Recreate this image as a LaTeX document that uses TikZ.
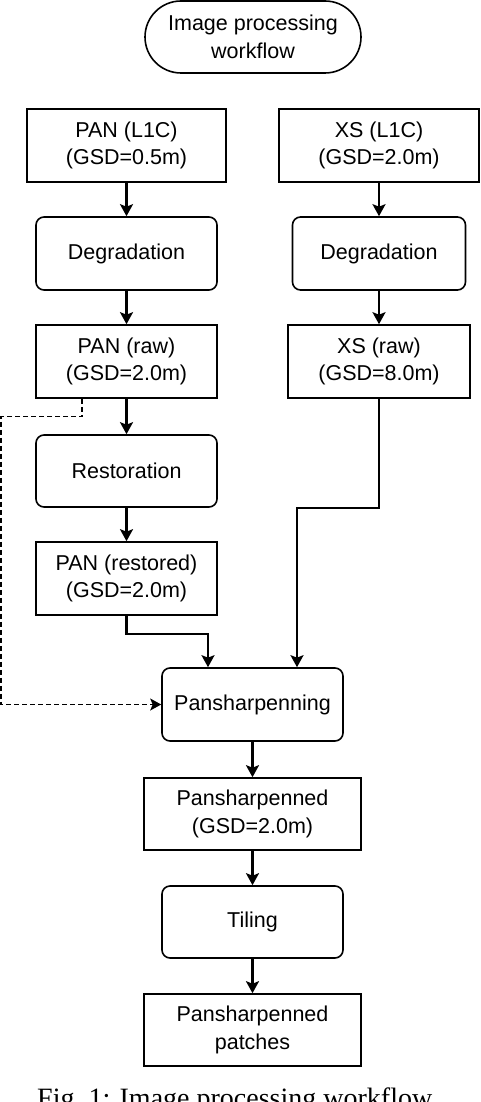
\documentclass[tikz,border=0pt]{standalone}
\usepackage{fontspec}
\setmainfont{Liberation Sans}
\newfontfamily\capfont{Liberation Serif}
\usetikzlibrary{arrows.meta}
\begin{document}
\begin{tikzpicture}[x=1pt,y=-1pt,
  every node/.style={font=\fontsize{21.5}{27.5}\selectfont, align=center, inner sep=0pt},
  databox/.style={draw, line width=1.6pt, minimum height=73pt},
  procbox/.style={databox, rounded corners=8pt},
  flow/.style={line width=2.2pt, -{Stealth[length=12pt,width=13pt,inset=2.5pt]}},
  dashflow/.style={line width=1.2pt, dash pattern=on 5pt off 3pt, -{Stealth[length=11pt,width=12pt,inset=2.5pt]}}]
\useasboundingbox (0,0) rectangle (480,1102);
\node[databox, rounded corners=36pt, minimum width=216pt, minimum height=72pt] (title) at (253,37) {Image processing\\workflow};
\node[databox, minimum width=199pt] (panlc) at (126.5,145.5) {PAN (L1C)\\(GSD=0.5m)};
\node[databox, minimum width=200pt] (xslc) at (379,145.5) {XS (L1C)\\(GSD=2.0m)};
\node[procbox, minimum width=181pt] (degpan) at (126.5,253.5) {Degradation};
\node[procbox, minimum width=173pt] (degxs) at (379,253.5) {Degradation};
\node[databox, minimum width=181pt] (panraw) at (126.5,361.5) {PAN (raw)\\(GSD=2.0m)};
\node[databox, minimum width=182pt] (xsraw) at (379,361.5) {XS (raw)\\(GSD=8.0m)};
\node[procbox, minimum width=181pt, minimum height=72pt] (restore) at (126.5,471) {Restoration};
\node[databox, minimum width=181pt] (panrest) at (126.5,578.5) {PAN (restored)\\(GSD=2.0m)};
\node[procbox, minimum width=181pt] (pansharp) at (252.5,704.5) {Pansharpenning};
\node[databox, minimum width=217pt, minimum height=72pt] (pshout) at (252.5,814) {Pansharpenned\\(GSD=2.0m)};
\node[procbox, minimum width=181pt, minimum height=72pt] (tiling) at (252.5,922) {Tiling};
\node[databox, minimum width=217pt, minimum height=72pt] (patches) at (252.5,1030) {Pansharpenned\\patches};
\node[anchor=base west, font=\capfont\fontsize{28}{32}\selectfont] (caption) at (37,1107.5) {Fig.~1: Image processing workflow.};
\draw[flow] (panlc) -- (degpan);
\draw[flow] (xslc) -- (degxs);
\draw[flow] (degpan) -- (panraw);
\draw[flow] (degxs) -- (xsraw);
\draw[flow] (panraw) -- (restore);
\draw[flow] (restore) -- (panrest);
\draw[flow] (panrest.south) -- ++(0,18) -| ([xshift=-44.5pt]pansharp.north);
\draw[flow] (xsraw.south) -- ++(0,109) -| ([xshift=44.5pt]pansharp.north);
\draw[dashflow] ([xshift=-44.5pt]panraw.south) -- ++(0,18) -- ++(-81,0) |- (pansharp.west);
\draw[flow] (pansharp) -- (pshout);
\draw[flow] (pshout) -- (tiling);
\draw[flow] (tiling) -- (patches);
\end{tikzpicture}
\end{document}
